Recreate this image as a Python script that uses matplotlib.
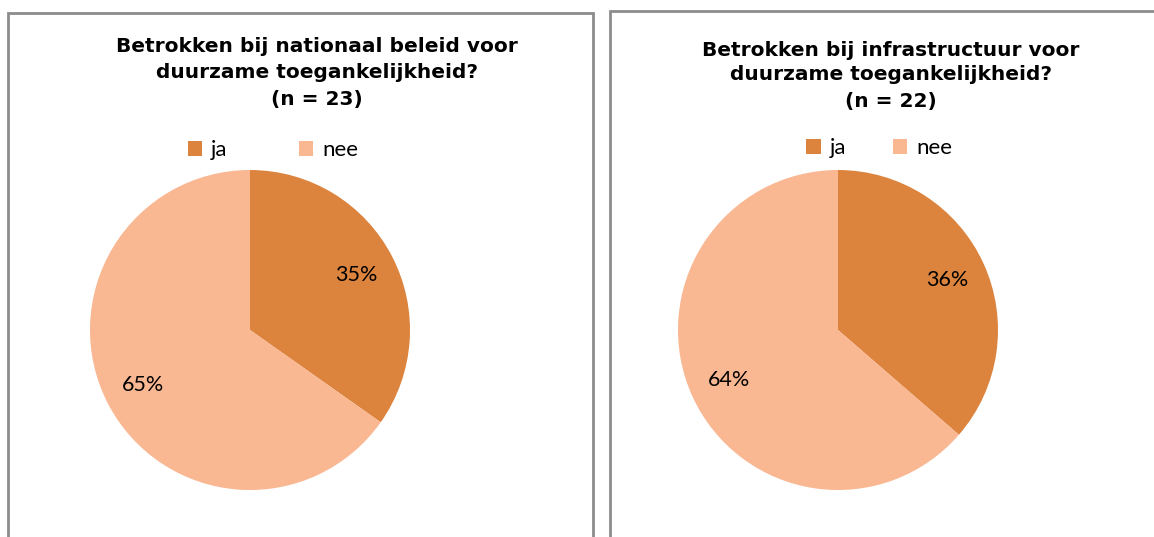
import matplotlib
matplotlib.use("Agg")
import matplotlib.pyplot as plt
from matplotlib.patches import Rectangle, Patch

W, H = 1154, 537
DPI = 100

categories = ["ja", "nee"]
values_left = [8, 15]    # n = 23 -> 35% / 65%
values_right = [8, 14]   # n = 22 -> 36% / 64%
titles = [
    ["Betrokken bij nationaal beleid voor", "duurzame toegankelijkheid?", "(n = 23)"],
    ["Betrokken bij infrastructuur voor", "duurzame toegankelijkheid?", "(n = 22)"],
]
colors = ["#DC843E", "#F9B792"]

fig = plt.figure(figsize=(W / DPI, H / DPI), dpi=DPI)
fig.patch.set_facecolor("white")

def fx(px):
    return px / W

def fy(py):
    return 1 - py / H

# panel borders
for (x0, x1, y0) in [(8, 593, 13), (610, 1160, 11)]:
    fig.patches.append(Rectangle((fx(x0), fy(560)), fx(x1 - x0), (560 - y0) / H,
                                 transform=fig.transFigure, fill=False,
                                 edgecolor="#8C8C8C", linewidth=2, zorder=0))

panels = [
    dict(values=values_left, cx=250, cy=330, r=160, tx=317, ty=[47, 73, 99],
         ly=150, lx=273, cs=3.2),
    dict(values=values_right, cx=838, cy=330, r=160, tx=891, ty=[50, 75, 101],
         ly=148, lx=879, cs=2.1),
]

for p, title in zip(panels, titles):
    ax = fig.add_axes([fx(p["cx"] - p["r"]), fy(p["cy"] + p["r"]),
                       fx(2 * p["r"]), 2 * p["r"] / H])
    wedges, texts, autotexts = ax.pie(
        p["values"], colors=colors, startangle=90, counterclock=False,
        autopct="%1.0f%%", pctdistance=0.75, radius=1,
        wedgeprops=dict(linewidth=0),
        textprops=dict(fontsize=15.5, family="Lato", color="black"))
    ax.set_xlim(-1, 1)
    ax.set_ylim(-1, 1)
    ax.set_aspect("equal")
    ax.axis("off")
    for line, y in zip(title, p["ty"]):
        fig.text(fx(p["tx"]), fy(y), line, ha="center", va="center",
                 fontsize=14.5, fontweight="bold", family="DejaVu Sans")
    handles = [Patch(facecolor=c, edgecolor="none") for c in colors]
    fig.legend(handles, categories, loc="center", bbox_to_anchor=(fx(p["lx"]), fy(p["ly"])),
               ncol=2, frameon=False, handlelength=0.65, handleheight=0.65,
               handletextpad=0.4, columnspacing=p["cs"],
               prop=dict(family="Lato", size=16))

fig.savefig("out.png", dpi=DPI, facecolor="white")
